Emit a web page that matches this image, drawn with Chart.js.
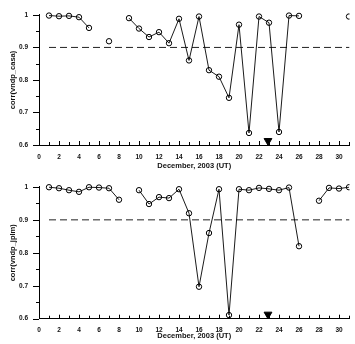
<!DOCTYPE html>
<html>
<head>
<meta charset="utf-8">
<script src="https://cdn.jsdelivr.net/npm/chart.js@4.4.0/dist/chart.umd.min.js"></script>
<style>
  body { margin: 0; background: #fff; }
  canvas { display: block; }
</style>
</head>
<body>
<canvas id="chartCasa" width="355" height="172"></canvas>
<canvas id="chartJplm" width="355" height="172"></canvas>
<script>
// Datos (días de diciembre 2003)
const dias = [1, 2, 3, 4, 5, 6, 7, 8, 9, 10, 11, 12, 13, 14, 15, 16, 17, 18, 19, 20, 21, 22, 23, 24, 25, 26, 27, 28, 29, 30, 31];
const corrCasa = [0.998, 0.996, 0.997, 0.993, 0.960, null, 0.919, null, 0.990, 0.958, 0.932, 0.947, 0.913, 0.988, 0.860, 0.995,
    0.830, 0.810, 0.745, 0.970, 0.637, 0.995, 0.976, 0.640, 0.998, 0.997, null, null, null, null, 0.995];
const corrJplm = [0.999, 0.996, 0.990, 0.985, 0.999, 0.998, 0.996, 0.961, null, 0.990, 0.948, 0.969, 0.966, 0.993, 0.920, 0.697,
    0.860, 0.993, 0.611, 0.993, 0.990, 0.997, 0.994, 0.990, 0.998, 0.820, null, 0.958, 0.997, 0.995, 0.999];
const umbral = 0.9;
const umbralDesde = 1;
const marcaDia = 22.9;
const marcaValor = 0.613;
const xTicks = [0, 2, 4, 6, 8, 10, 12, 14, 16, 18, 20, 22, 24, 26, 28, 30];
const yTicks = [0.6, 0.7, 0.8, 0.9, 1];
const xMax = 31.05;

const FUENTE = 'Arial, "Liberation Sans", sans-serif';

// Marcas de los ejes (hacia dentro en x, hacia fuera en y)
const marcasEjes = {
    id: 'marcasEjes',
    afterDraw(chart) {
        const { ctx, chartArea, scales: { x, y } } = chart;
        ctx.save();
        ctx.strokeStyle = '#000';
        ctx.lineWidth = 1;
        ctx.beginPath();
        for (let d = 0; d <= 31; d++) {
            const px = Math.round(x.getPixelForValue(d)) + 0.5;
            const largo = d % 2 === 0 ? 4 : 3;
            ctx.moveTo(px, chartArea.bottom);
            ctx.lineTo(px, chartArea.bottom - largo);
        }
        for (let i = 0; i <= 8; i++) {
            const v = 0.6 + i * 0.05;
            const py = Math.round(y.getPixelForValue(v)) + 0.5;
            const largo = i % 2 === 0 ? 6 : 3;
            ctx.moveTo(chartArea.left, py);
            ctx.lineTo(chartArea.left - largo, py);
        }
        ctx.stroke();
        ctx.restore();
    }
};

function crearGrafico(id, serie, etiquetaY, geo) {
    const ctx = document.getElementById(id);
    new Chart(ctx.getContext('2d'), {
        type: 'line',
        data: {
            datasets: [{
                data: dias.map((d, i) => ({ x: d, y: serie[i] })),
                borderColor: '#000',
                borderWidth: 0.9,
                pointRadius: 2.7,
                pointBorderWidth: 1,
                pointBackgroundColor: 'rgba(255,255,255,0)',
                pointBorderColor: '#000',
                spanGaps: false,
                clip: { left: false, top: false, right: 0, bottom: false }
            }, {
                data: [{ x: umbralDesde, y: umbral }, { x: xMax, y: umbral }],
                borderColor: '#222',
                borderWidth: 1,
                borderDash: [7, 4],
                pointRadius: 0
            }, {
                data: [{ x: marcaDia, y: marcaValor }],
                showLine: false,
                pointStyle: 'triangle',
                rotation: 180,
                pointRadius: 4.5,
                pointBackgroundColor: '#000',
                pointBorderColor: '#000',
                clip: false
            }]
        },
        options: {
            responsive: false,
            animation: false,
            devicePixelRatio: 1,
            layout: { padding: { top: geo.top, right: 5, left: 0, bottom: 0 } },
            plugins: { legend: { display: false }, tooltip: { enabled: false } },
            scales: {
                x: {
                    type: 'linear',
                    min: 0,
                    max: xMax,
                    afterBuildTicks: s => { s.ticks = xTicks.map(v => ({ value: v })); },
                    afterFit: s => { s.height = geo.xAlto; },
                    grid: { display: false, drawTicks: false },
                    border: { display: true, color: '#000', width: 1 },
                    ticks: { color: '#111', padding: 8, maxRotation: 0, font: { family: FUENTE, size: 6.5, weight: 'bold' } },
                    title: {
                        display: true,
                        text: 'December, 2003 (UT)',
                        color: '#111',
                        font: { family: FUENTE, size: 7.5, weight: 'bold' },
                        padding: { top: 0, bottom: geo.tituloX }
                    }
                },
                y: {
                    min: 0.6,
                    max: 1.0,
                    afterBuildTicks: s => { s.ticks = yTicks.map(v => ({ value: v })); },
                    afterFit: s => { s.width = 39; },
                    grid: { display: false, drawTicks: false },
                    border: { display: true, color: '#000', width: 1 },
                    ticks: {
                        color: '#111',
                        padding: 11,
                        font: { family: FUENTE, size: 6.5, weight: 'bold' },
                        callback: v => (v === 1 ? '1' : v.toFixed(1))
                    },
                    title: {
                        display: true,
                        text: etiquetaY,
                        color: '#111',
                        font: { family: FUENTE, size: 7.5, weight: 'bold' },
                        padding: { top: 8, bottom: 0 }
                    }
                }
            }
        },
        plugins: [marcasEjes]
    });
}

window.addEventListener('DOMContentLoaded', () => {
    crearGrafico('chartCasa', corrCasa, 'corr(vndp_casa)', { top: 11, xAlto: 27, tituloX: 1.5 });
    crearGrafico('chartJplm', corrJplm, 'corr(vndp_jplm)', { top: 12.3, xAlto: 25.3, tituloX: 4 });
});
</script>
</body>
</html>
